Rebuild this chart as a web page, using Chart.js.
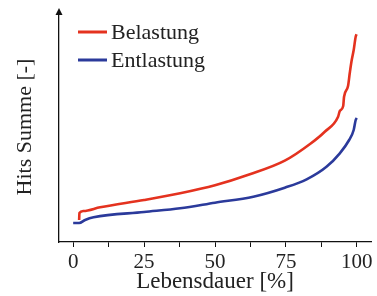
<!DOCTYPE html>
<html>
<head>
<meta charset="utf-8">
<script src="https://cdn.jsdelivr.net/npm/chart.js@4"></script>
<style>
html,body{margin:0;padding:0;background:#fff;}
#wrap{width:377px;height:296px;position:relative;}
</style>
</head>
<body>
<div id="wrap"><canvas id="c"></canvas></div>
<script>
const seriesNames = ["Belastung", "Entlastung"];
const belastungX = [2.1, 2.2, 3.6, 9.5, 25, 37.7, 50, 62.3, 74.6, 83.5, 88.7, 93.4, 94.0, 95.2, 95.5, 96.9, 97.5, 98.1, 98.9, 99.6, 99.9];
const belastungY = [22, 29, 31, 34.7, 42, 48.7, 56.7, 67.7, 81.3, 98, 110.3, 125.3, 131, 136, 145.3, 156, 168.7, 180.3, 192, 205.3, 207.7];
const entlastungX = [0, 2.1, 4.2, 7.2, 25, 37.7, 50, 63.5, 74.6, 82.3, 89.3, 94.0, 97.3, 98.9, 99.6, 100];
const entlastungY = [19, 19, 22, 24.7, 30, 33.7, 39.3, 45.3, 54.3, 62.7, 75.3, 88.7, 102, 112, 122, 124];
const xTickValues = [0, 12.5, 25, 37.5, 50, 62.5, 75, 87.5, 100];
const xTickLabels = ["0", "", "25", "", "50", "", "75", "", "100"];
const xTitle = "Lebensdauer [%]";
const yTitle = "Hits Summe [-]";

const colors = ["#e4321f", "#2b3a9b"];
const FONT = '"Liberation Serif", "Times New Roman", serif';
const toPts = (xs, ys) => xs.map((x, i) => ({x: x, y: ys[i]}));

const arrowLegend = {
  id: 'arrowLegend',
  afterDraw(chart) {
    const ctx = chart.ctx;
    const a = chart.chartArea;
    ctx.save();
    ctx.fillStyle = '#111';
    ctx.beginPath();
    ctx.moveTo(a.left, 8);
    ctx.lineTo(a.left - 3.5, 15);
    ctx.lineTo(a.left + 3.5, 15);
    ctx.closePath();
    ctx.fill();
    ctx.strokeStyle = '#111';
    ctx.lineWidth = 1.3;
    ctx.beginPath();
    ctx.moveTo(a.left, 14);
    ctx.lineTo(a.left, a.top);
    ctx.stroke();
    ctx.font = '22px ' + FONT;
    ctx.textBaseline = 'middle';
    chart.data.datasets.forEach((ds, i) => {
      const y = 32 + i * 28;
      ctx.strokeStyle = ds.borderColor;
      ctx.lineWidth = 3;
      ctx.beginPath();
      ctx.moveTo(78, y);
      ctx.lineTo(107, y);
      ctx.stroke();
      ctx.fillStyle = '#222';
      ctx.fillText(ds.label, 111, y + 1);
    });
    ctx.restore();
  }
};

new Chart(document.getElementById('c'), {
  type: 'line',
  data: {
    datasets: [
      {label: seriesNames[0], data: toPts(belastungX, belastungY), borderColor: colors[0], borderWidth: 2.6, pointRadius: 0, cubicInterpolationMode: 'monotone', fill: false},
      {label: seriesNames[1], data: toPts(entlastungX, entlastungY), borderColor: colors[1], borderWidth: 2.6, pointRadius: 0, cubicInterpolationMode: 'monotone', fill: false}
    ]
  },
  options: {
    responsive: true,
    maintainAspectRatio: false,
    animation: false,
    layout: {padding: {top: 12, right: 6, left: 0, bottom: 0}},
    plugins: {legend: {display: false}, tooltip: {enabled: false}},
    scales: {
      x: {
        type: 'linear', min: -5, max: 105,
        afterBuildTicks: s => { s.ticks = xTickValues.map(v => ({value: v})); },
        afterFit: s => { s.height = 54; },
        ticks: {
          autoSkip: false, maxRotation: 0, padding: 3, color: '#222',
          font: {family: FONT, size: 21},
          callback: (v, i) => xTickLabels[i]
        },
        grid: {display: true, drawOnChartArea: false, drawTicks: true, tickLength: 5, color: '#111', lineWidth: 1},
        border: {display: true, color: '#111', width: 1.3},
        title: {display: true, text: xTitle, color: '#222', padding: {top: -4, bottom: 0},
          font: {family: FONT, size: 23}}
      },
      y: {
        type: 'linear', min: 0, max: 230,
        afterFit: s => { s.width = 59; },
        ticks: {display: false},
        grid: {display: false},
        border: {display: true, color: '#111', width: 1.3},
        title: {display: true, text: yTitle, color: '#222', padding: {top: 12, bottom: 0},
          font: {family: FONT, size: 22}}
      }
    }
  },
  plugins: [arrowLegend]
});
</script>
</body>
</html>
